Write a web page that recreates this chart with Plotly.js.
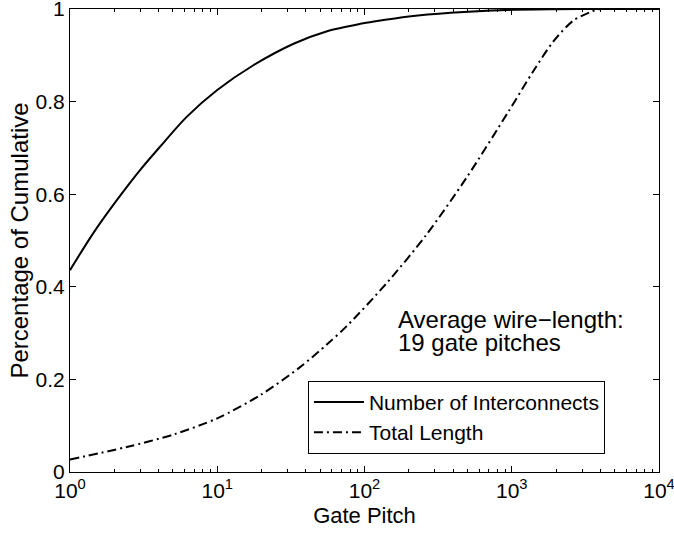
<!DOCTYPE html>
<html>
<head>
<meta charset="utf-8">
<script src="https://cdn.plot.ly/plotly-3.0.1.min.js"></script>
<style>html,body{margin:0;padding:0;background:#fff;}</style>
</head>
<body>
<div id="chart" style="width:674px;height:533px;"></div>
<script>
// Number of Interconnects (cumulative fraction)
const countX = [1, 1.44, 2.08, 2.99, 4.1, 6.2, 10, 17.7, 33, 55.7, 94, 116, 200, 385, 933, 2000, 4000, 10000];
const countY = [0.436, 0.516, 0.587, 0.652, 0.703, 0.767, 0.825, 0.879, 0.925, 0.952, 0.968, 0.973, 0.984, 0.992, 0.998, 0.9995, 1, 1];
// Total Length (cumulative fraction)
const lengthX = [1, 2.43, 5.05, 10, 19.6, 36.7, 55.7, 75.7, 141.5, 264, 494, 948, 1403, 1918, 2620, 3400, 3980, 10000];
const lengthY = [0.027, 0.054, 0.081, 0.116, 0.166, 0.227, 0.276, 0.315, 0.408, 0.513, 0.636, 0.778, 0.866, 0.930, 0.975, 0.993, 1.0, 1.0];

const seriesNames = ["Number of Interconnects", "Total Length"];
const xTickVals = [1, 10, 100, 1000, 10000];
const xTickText = ["10<sup>0</sup>", "10<sup>1</sup>", "10<sup>2</sup>", "10<sup>3</sup>", "10<sup>4</sup>"];
const yTickVals = [0, 0.2, 0.4, 0.6, 0.8, 1];
const yTickText = ["0", "0.2", "0.4", "0.6", "0.8", "1"];
const noteLines = ["Average wire\u2212length:", "19 gate pitches"];

const FONT = "Liberation Sans, Arial, Helvetica, sans-serif";

const traces = [
  {x: countX, y: countY, name: seriesNames[0], mode: "lines",
   line: {color: "black", width: 2, shape: "spline", smoothing: 0.8}},
  {x: lengthX, y: lengthY, name: seriesNames[1], mode: "lines",
   line: {color: "black", width: 2, dash: "9px,4px,2px,4px", shape: "spline", smoothing: 0.8}}
];

const layout = {
  width: 674, height: 533,
  margin: {l: 70, r: 15, t: 9, b: 61},
  paper_bgcolor: "white", plot_bgcolor: "white",
  font: {family: FONT, size: 21, color: "black"},
  showlegend: true,
  legend: {x: 0.404, y: 0.197, xanchor: "left", yanchor: "top",
           bordercolor: "black", borderwidth: 1, bgcolor: "white",
           itemwidth: 50,
           font: {family: FONT, size: 21, color: "black"},
           tracegroupgap: 0},
  xaxis: {
    type: "log", range: [0, 4],
    tickvals: xTickVals, ticktext: xTickText,
    ticks: "inside", ticklen: 6, tickcolor: "black",
    ticklabeloverflow: "allow",
    minor: {ticks: "inside", ticklen: 3, dtick: "D1", tickcolor: "black", showgrid: false},
    showline: true, linecolor: "black", linewidth: 1, mirror: "ticks",
    showgrid: false, zeroline: false,
    tickfont: {family: FONT, size: 21, color: "black"},
    title: {text: "Gate Pitch", font: {family: FONT, size: 22, color: "black"}, standoff: 6}
  },
  yaxis: {
    range: [0, 1],
    tickvals: yTickVals, ticktext: yTickText,
    ticks: "inside", ticklen: 6, tickcolor: "black",
    ticklabeloverflow: "allow",
    showline: true, linecolor: "black", linewidth: 1, mirror: "ticks",
    showgrid: false, zeroline: false,
    tickfont: {family: FONT, size: 21, color: "black"},
    title: {text: "Percentage of Cumulative", font: {family: FONT, size: 24, color: "black"}, standoff: 0}
  },
  annotations: [
    {xref: "paper", yref: "paper", x: 0.555, y: (472 - 334) / 463, xanchor: "left", yanchor: "bottom",
     text: noteLines[0], showarrow: false, align: "left",
     font: {family: FONT, size: 24, color: "black"}, borderpad: 0},
    {xref: "paper", yref: "paper", x: 0.555, y: (472 - 357) / 463, xanchor: "left", yanchor: "bottom",
     text: noteLines[1], showarrow: false, align: "left",
     font: {family: FONT, size: 24, color: "black"}, borderpad: 0}
  ]
};

Plotly.newPlot("chart", traces, layout, {displayModeBar: false, staticPlot: true});
</script>
</body>
</html>
